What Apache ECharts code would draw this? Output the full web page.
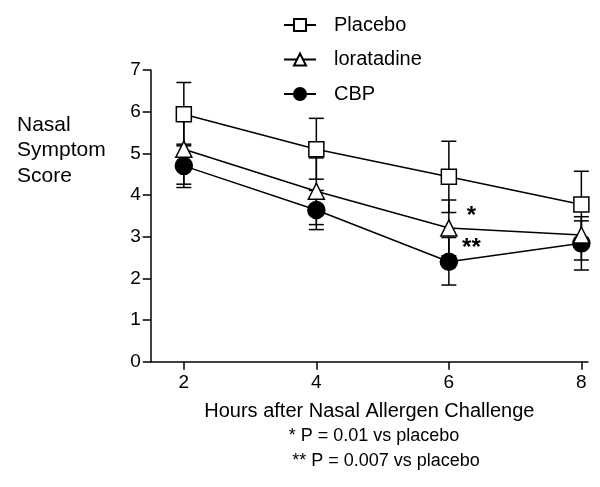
<!DOCTYPE html>
<html>
<head>
<meta charset="utf-8">
<script src="https://cdn.jsdelivr.net/npm/echarts@6/dist/echarts.min.js"></script>
<style>
html,body{margin:0;padding:0;background:#fff;}
#main{width:600px;height:487px;}
</style>
</head>
<body>
<div id="main"></div>
<script>
// ---- data ----
var hours = [2, 4, 6, 8];
var xTicks = [2, 4, 6, 8];
var seriesNames = ['Placebo', 'loratadine', 'CBP'];
var placeboMean  = [5.94, 5.10, 4.44, 3.77];
var placeboHigh  = [6.70, 5.84, 5.29, 4.57];
var placeboLow   = [5.18, 4.38, 3.58, 2.97];
var loratMean    = [5.10, 4.09, 3.21, 3.04];
var loratHigh    = [5.94, 4.89, 3.88, 3.38];
var loratLow     = [4.26, 3.29, 2.54, 2.44];
var cbpMean      = [4.70, 3.64, 2.40, 2.84];
var cbpHigh      = [5.22, 4.11, 2.98, 3.48];
var cbpLow       = [4.18, 3.17, 1.84, 2.20];
var annotText = ['*', '**'];
var annotX    = [6.34, 6.34];
var annotY    = [3.48, 2.71];
var yTitle = 'Nasal\nSymptom\nScore';
var xTitle = 'Hours after Nasal Allergen Challenge';
var footnotes = ['* P = 0.01 vs placebo', '** P = 0.007 vs placebo'];

// ---- build ----
var FONT = '"Liberation Sans", Arial, sans-serif';
function pts(m){ return hours.map(function(h,i){ return [h, m[i]]; }); }
function errs(lo, hi){ return hours.map(function(h,i){ return [h, lo[i], hi[i]]; }); }

function renderErr(params, api){
  var x = api.value(0), lo = api.value(1), hi = api.value(2);
  var pl = api.coord([x, lo]), ph = api.coord([x, hi]);
  var w = 7.5;
  var st = {stroke: '#000', lineWidth: 1.5};
  return {type: 'group', children: [
    {type: 'line', shape: {x1: pl[0], y1: pl[1], x2: ph[0], y2: ph[1]}, style: st},
    {type: 'line', shape: {x1: ph[0]-w, y1: ph[1], x2: ph[0]+w, y2: ph[1]}, style: st},
    {type: 'line', shape: {x1: pl[0]-w, y1: pl[1], x2: pl[0]+w, y2: pl[1]}, style: st}
  ]};
}

function errSeries(name, lo, hi){
  return {
    type: 'custom', name: name, renderItem: renderErr,
    data: errs(lo, hi), encode: {x: 0, y: [1, 2]}, z: 1, silent: true
  };
}
function lineSeries(name, data, symbol, size, fill){
  return {
    type: 'line', name: name, data: pts(data), symbol: symbol, symbolSize: size,
    showSymbol: true, z: 3,
    lineStyle: {color: '#000', width: 1.5},
    itemStyle: {color: fill, borderColor: '#000', borderWidth: 1.5},
    emphasis: {disabled: true}
  };
}

var chart = echarts.init(document.getElementById('main'), null, {renderer: 'canvas'});
var baseGraphic = [
  {type: 'text', left: 17, top: 112, style: {text: yTitle, font: '21px ' + FONT, fill: '#000', lineHeight: 25.5}},
  {type: 'text', x: 374, y: 436, style: {text: footnotes[0], font: '18px ' + FONT, fill: '#000', textAlign: 'center', textVerticalAlign: 'middle'}},
  {type: 'text', x: 386, y: 461, style: {text: footnotes[1], font: '18px ' + FONT, fill: '#000', textAlign: 'center', textVerticalAlign: 'middle'}}
];
var option = {
  animation: false,
  backgroundColor: '#fff',
  textStyle: {fontFamily: FONT, color: '#000'},
  grid: {left: 150.7, right: 12, top: 70, bottom: 125.3, containLabel: false},
  legend: {
    data: seriesNames,
    orient: 'vertical',
    left: 278, top: 10,
    itemWidth: 32, itemHeight: 15, itemGap: 14.5,
    textStyle: {fontFamily: FONT, fontSize: 20, color: '#000', padding: [0, 0, 0, 13]},
    selectedMode: false
  },
  xAxis: {
    type: 'value', min: 1.5, max: 8.1,
    name: xTitle, nameLocation: 'middle', nameGap: 40,
    nameTextStyle: {fontFamily: FONT, fontSize: 20, color: '#000'},
    axisLine: {show: true, onZero: false, lineStyle: {color: '#000', width: 1.5}},
    axisTick: {show: true, length: 8, customValues: xTicks, lineStyle: {color: '#000', width: 1.5}},
    axisLabel: {customValues: xTicks, fontFamily: FONT, fontSize: 19, color: '#000', margin: 12},
    splitLine: {show: false}
  },
  yAxis: {
    type: 'value', min: 0, max: 7, interval: 1,
    axisLine: {show: true, lineStyle: {color: '#000', width: 1.5}},
    axisTick: {show: true, length: 8, lineStyle: {color: '#000', width: 1.5}},
    axisLabel: {fontFamily: FONT, fontSize: 19, color: '#000', margin: 10},
    splitLine: {show: false}
  },
  graphic: baseGraphic,
  series: [
    errSeries('err-Placebo', placeboLow, placeboHigh),
    errSeries('err-loratadine', loratLow, loratHigh),
    errSeries('err-CBP', cbpLow, cbpHigh),
    lineSeries('CBP', cbpMean, 'circle', 17, '#000'),
    lineSeries('loratadine', loratMean, 'triangle', 16, '#fff'),
    lineSeries('Placebo', placeboMean, 'rect', 15, '#fff')
  ]
};
chart.setOption(option);

// significance markers, placed through the chart's own scales
var annotGraphic = annotText.map(function(t, i){
  var p = chart.convertToPixel({gridIndex: 0}, [annotX[i], annotY[i]]);
  return {type: 'text', x: p[0], y: p[1], z: 10,
          style: {text: t, font: 'bold 24px ' + FONT, fill: '#000', textAlign: 'center', textVerticalAlign: 'middle'}};
});
chart.setOption({graphic: baseGraphic.concat(annotGraphic)});
</script>
</body>
</html>
